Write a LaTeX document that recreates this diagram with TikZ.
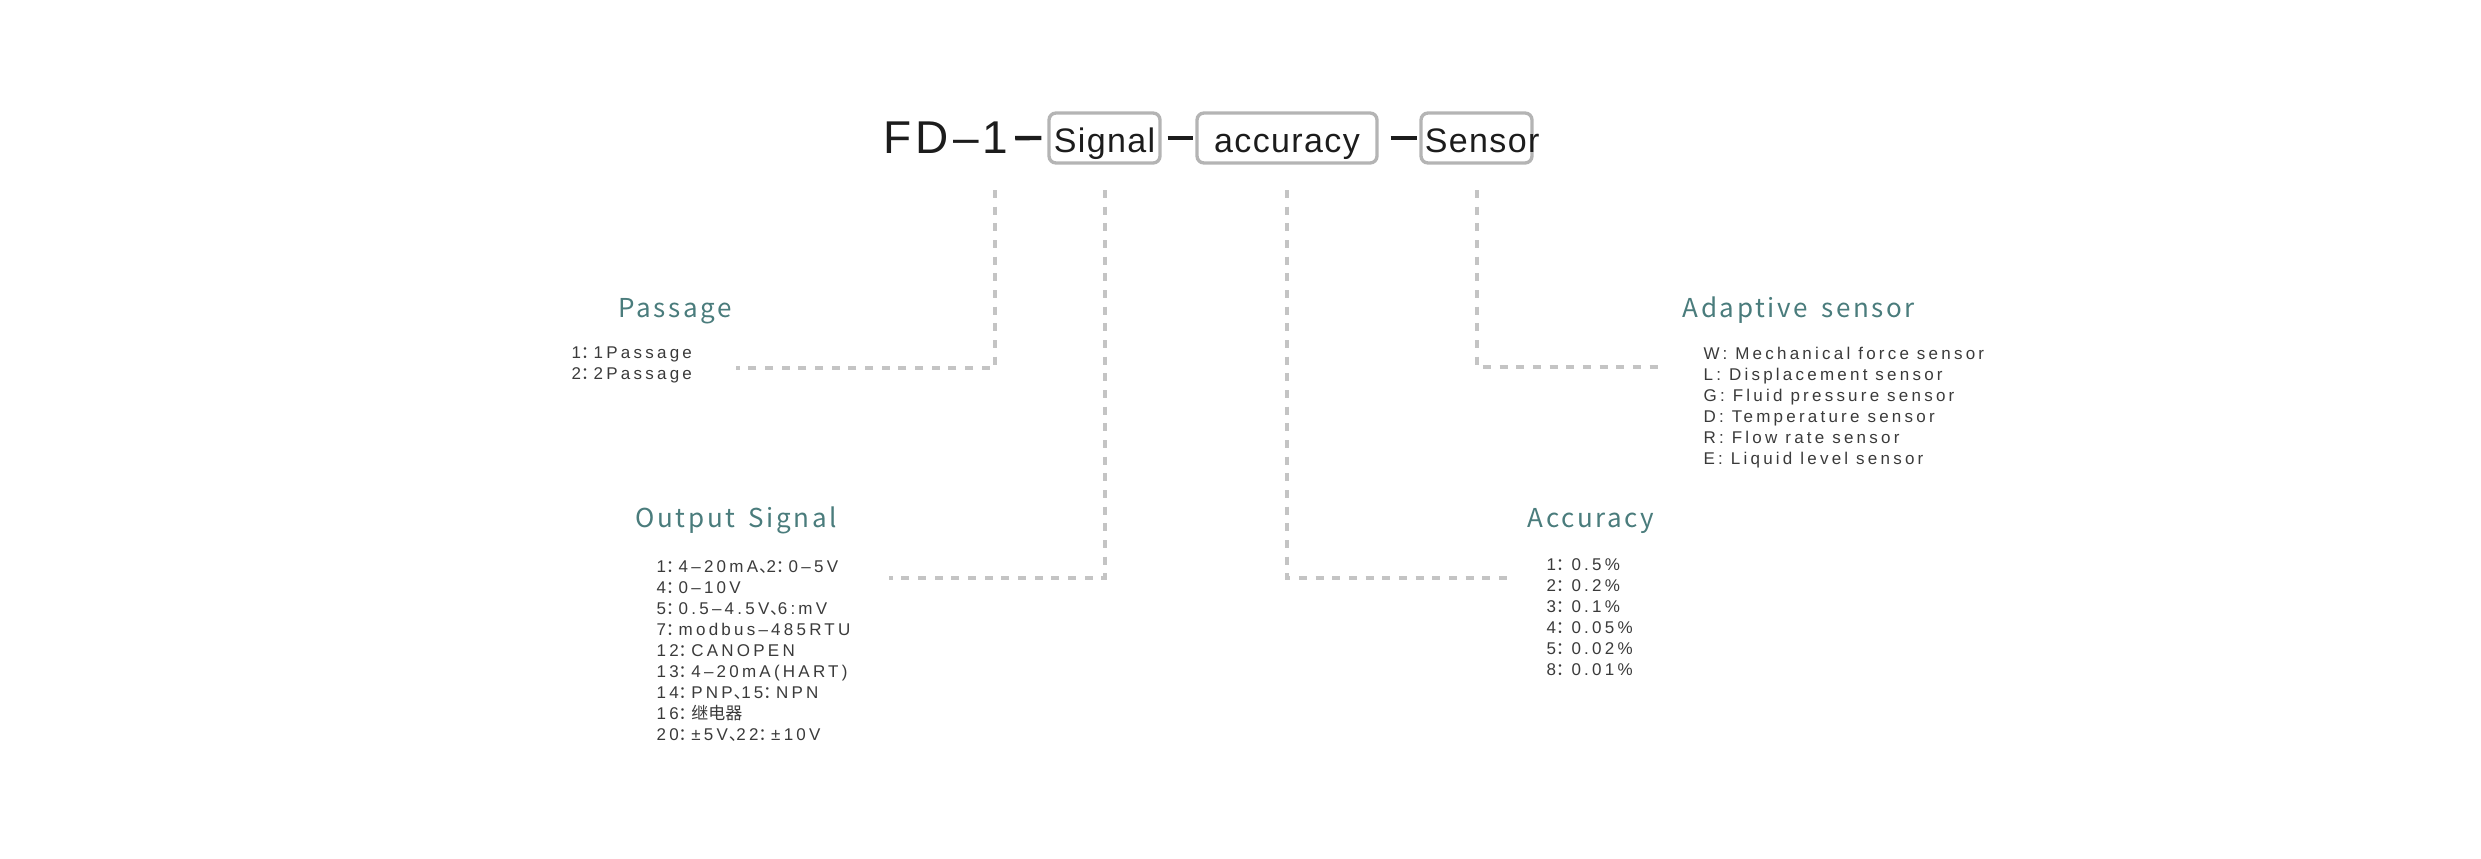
\documentclass[tikz,border=0pt]{standalone}
\usepackage{fontspec}
\usepackage{xcolor}
\usetikzlibrary{shapes,arrows}

\newfontfamily\codefont[LetterSpace=9]{Liberation Sans}
\newfontfamily\boxfont[LetterSpace=4]{Liberation Sans}
\newfontfamily\headfont[LetterSpace=10,WordSpace=1.6]{Noto Sans CJK SC}
\newfontfamily\listfont[LetterSpace=19]{Liberation Sans}
\newfontfamily\cjk{Noto Sans CJK SC}
\newcommand{\zc}{{\kern-0.02em\makebox[0.76em][l]{\cjk ：}}}
\newcommand{\zd}{{\kern0.05em\makebox[0.45em][l]{\cjk 、}}}

\definecolor{boxgray}{RGB}{180,180,180}
\definecolor{guidegray}{RGB}{196,196,196}
\definecolor{catteal}{RGB}{74,124,124}
\definecolor{listgray}{RGB}{58,58,58}
\definecolor{codeblack}{RGB}{28,28,28}

\begin{document}
\begin{tikzpicture}[x=0.3pt,y=0.3pt,yscale=-1,xscale=1,
    segbox/.style={draw=boxgray, line width=1pt, rounded corners=2.1pt, minimum width=33.3pt, anchor=base, inner xsep=0pt, inner ysep=0pt, text height=11.7pt, text depth=3.3pt, text=codeblack, font=\boxfont\fontsize{10.2}{12}\selectfont},
    joiner/.style={line width=1.3pt, draw=codeblack},
    guide/.style={draw=guidegray, line width=1.2pt, dash pattern=on 2.4pt off 2.6pt},
    cattitle/.style={anchor=base west, inner sep=0pt, text=catteal, font=\headfont\fontsize{7.8}{9}\selectfont},
    catlist/.style={anchor=base west, inner sep=0pt, align=left, text=listgray, font=\listfont\fontsize{5.1}{6.3}\selectfont}]
    \useasboundingbox (0,0) rectangle (2481,859);

    % Text Node
    \draw (883,154) node (fd) [anchor=base west][inner sep=0pt] [text=codeblack, font=\codefont\fontsize{13.8}{16}\selectfont] {FD–1};
    %Shape: Rounded Rect
    \draw (1104.5,152) node (sig) [segbox] {Signal};
    %Shape: Rounded Rect
    \draw (1287,152) node (acc) [segbox, minimum width=54pt] {accuracy};
    %Shape: Rounded Rect
    \draw (1476.5,152) node (sen) [segbox] {\makebox[31pt][l]{Sensor}};

    %Straight Lines
    \draw [joiner, shorten <=1.8pt, shorten >=1.8pt] (fd.east) -- (sig.west);
    %Straight Lines
    \draw [joiner, shorten <=1.8pt, shorten >=0.6pt] (sig.east) -- (acc.west);
    %Straight Lines
    \draw [joiner, shorten <=3.6pt, shorten >=0.6pt] (acc.east) -- (sen.west);

    \coordinate (tapfd) at (995,190);
    \coordinate (passend) at (736,368);
    \coordinate (outend) at (889,578);
    \coordinate (accend) at (1507,578);
    \coordinate (adaend) at (1662,367);

    %Straight Lines
    \draw [guide] (tapfd) |- (passend);
    %Straight Lines
    \draw [guide] (sig.south |- tapfd) |- (outend);
    %Straight Lines
    \draw [guide] (acc.south |- tapfd) |- (accend);
    %Straight Lines
    \draw [guide] (sen.south |- tapfd) |- (adaend);

    % Text Node
    \draw (618,317) node (passtitle) [cattitle] {Passage};
    % Text Node
    \draw (571,379) node (passlist) [catlist] {1\zc1Passage\\2\zc2Passage};
    % Text Node
    \draw (1682,317) node (adatitle) [cattitle] {Adaptive sensor};
    % Text Node
    \draw (1703,464) node (adalist) [catlist] {W: Mechanical force sensor\\L: Displacement sensor\\G: Fluid pressure sensor\\D: Temperature sensor\\R: Flow rate sensor\\E: Liquid level sensor};
    % Text Node
    \draw (635,527) node (outtitle) [cattitle] {Output Signal};
    % Text Node
    \draw (656,740) node (outlist) [catlist] {1\zc4–20mA\zd2\zc0–5V\\4\zc0–10V\\5\zc0.5–4.5V\zd6:mV\\7\zc modbus–485RTU\\12\zc CANOPEN\\13\zc4–20mA(HART)\\14\zc PNP\zd15\zc NPN\\16\zc{\cjk 继电器}\\20\zc±5V\zd22\zc±10V};
    % Text Node
    \draw (1527,527) node (acctitle) [cattitle] {Accuracy};
    % Text Node
    \draw (1546,675) node (acclist) [catlist] {1\zc\,0.5\%\\2\zc\,0.2\%\\3\zc\,0.1\%\\4\zc\,0.05\%\\5\zc\,0.02\%\\8\zc\,0.01\%};

\end{tikzpicture}
\end{document}
